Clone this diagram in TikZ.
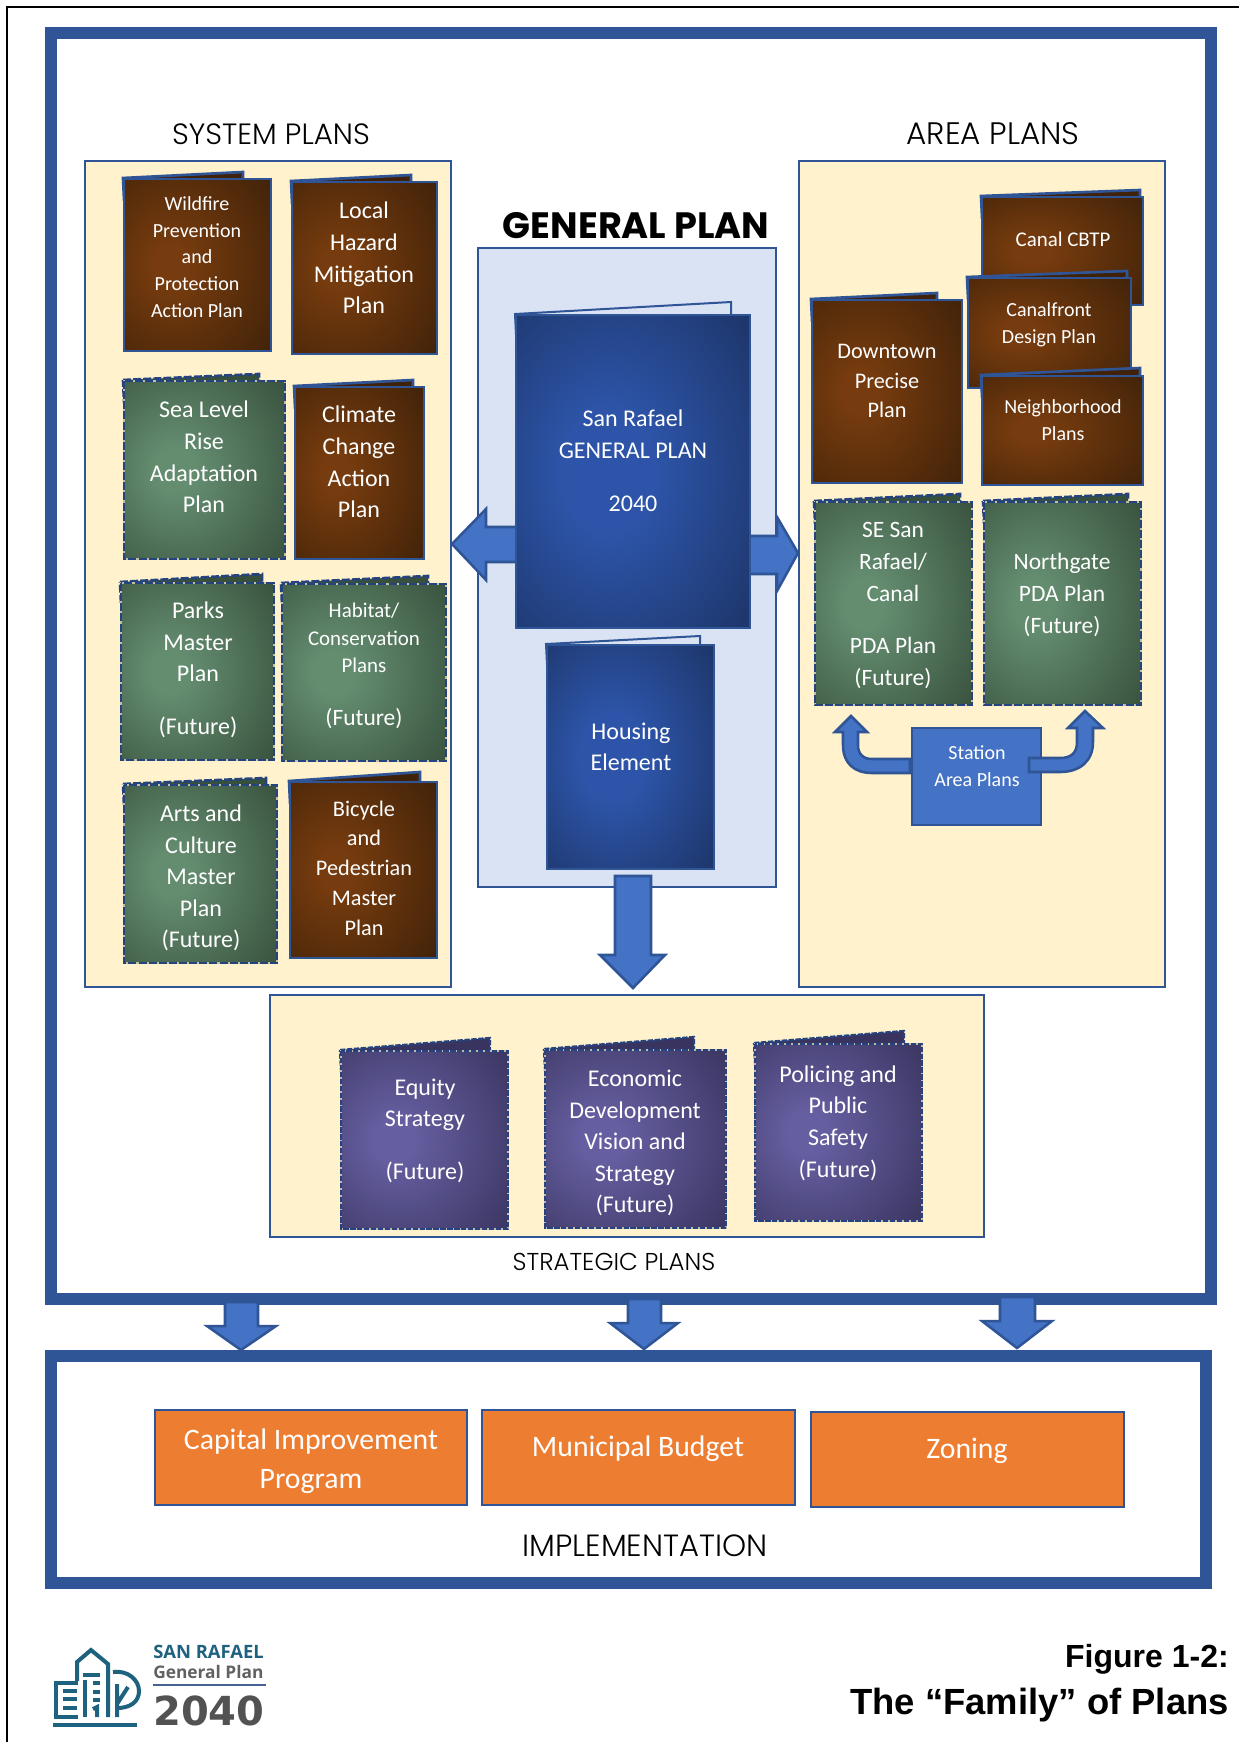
\documentclass[tikz,border=0pt]{standalone}
\usepackage{fontspec}
\setmainfont{Carlito}
\newfontfamily\headf{Poppins}[UprightFont={* Light},BoldFont={* Bold}]
\newfontfamily\figf{Liberation Sans}
\newfontfamily\logof{Open Sans}
\newfontfamily\logon{DejaVu Sans}
\definecolor{frame}{HTML}{2F5597}
\definecolor{cream}{HTML}{FFF2CC}
\definecolor{paleblue}{HTML}{DAE3F3}
\definecolor{arrowblue}{HTML}{4472C4}
\definecolor{orangebox}{HTML}{ED7D31}
\definecolor{brin}{HTML}{763B0E}
\definecolor{brout}{HTML}{3F2209}
\definecolor{grin}{HTML}{648D70}
\definecolor{grout}{HTML}{37503C}
\definecolor{puin}{HTML}{655EA0}
\definecolor{puout}{HTML}{39345F}
\definecolor{blin}{HTML}{2D54A8}
\definecolor{blout}{HTML}{1A305E}
\definecolor{logoteal}{HTML}{1F627F}
\definecolor{dashblue}{HTML}{24437F}
\pgfdeclareradialshading{brownrad}{\pgfpoint{-10bp}{0bp}}{color(0bp)=(brin); color(6bp)=(brin); color(41bp)=(brout); color(90bp)=(brout)}
\pgfdeclareradialshading{greenrad}{\pgfpoint{-10bp}{0bp}}{color(0bp)=(grin); color(6bp)=(grin); color(41bp)=(grout); color(90bp)=(grout)}
\pgfdeclareradialshading{purplerad}{\pgfpoint{-10bp}{0bp}}{color(0bp)=(puin); color(6bp)=(puin); color(41bp)=(puout); color(90bp)=(puout)}
\pgfdeclareradialshading{bluerad}{\pgfpoint{-6bp}{0bp}}{color(0bp)=(blin); color(10bp)=(blin); color(43bp)=(blout); color(90bp)=(blout)}
\tikzset{
  x=0.75pt,y=-0.75pt,
  bigframe/.style={draw=frame,line width=8.6pt,fill=white},
  panel/.style={draw=frame,line width=1.9pt,fill=cream},
  blockarrow/.style={draw=frame,line width=1.9pt,fill=arrowblue,line join=miter},
  orangecell/.style={draw=frame,line width=2pt,fill=orangebox},
  brownb/.style={shade,shading=brownrad},
  brownu/.style={},
  browns/.style={draw=frame,line width=2pt},
  brownl/.style={fill=brout,draw=frame,line width=2pt},
  greenb/.style={shade,shading=greenrad},
  greenu/.style={draw=cream!70!grout,line width=1pt},
  greens/.style={draw=dashblue,line width=2.2pt,dash pattern=on 6pt off 1.6pt},
  greenl/.style={fill=grout,draw=dashblue,line width=2pt,dash pattern=on 6pt off 1.6pt},
  purpleb/.style={shade,shading=purplerad},
  purpleu/.style={draw=cream!70!puout,line width=0.8pt},
  purples/.style={draw=dashblue,line width=1.7pt,dash pattern=on 4pt off 1.2pt},
  purplel/.style={fill=puout,draw=dashblue,line width=1.7pt,dash pattern=on 4pt off 1.2pt},
  blueb/.style={shade,shading=bluerad},
  blueu/.style={},
  blues/.style={draw=frame,line width=1pt},
  bluel/.style={fill=paleblue,draw=frame,line width=1.5pt},
  lab/.style={text=white,align=center,inner sep=0pt},
  L24/.style={lab,font=\fontsize{18}{23.7}\selectfont},
  L22/.style={lab,font=\fontsize{16.7}{22.3}\selectfont},
  L20/.style={lab,font=\fontsize{15}{20}\selectfont},
  L21/.style={lab,font=\fontsize{15.7}{20.5}\selectfont},
  L23/.style={lab,font=\fontsize{17.6}{24}\selectfont},
  L29/.style={lab,font=\fontsize{22.3}{29}\selectfont},
  headlab/.style={inner sep=0pt,font=\headf\fontsize{22}{24}\selectfont},
  logoink/.style={draw=logoteal,line width=3pt,line cap=butt,fill=none},
}
% style, x1,y1,x2,y2, leaf right x, leaf top y
\newcommand{\bookshape}[7]{%
  \path[#1l] (#2-1,#3-1) -- (#6,#7) -- (#6,#3) -- (#2,#3+20) -- cycle;
  \path[#1b] (#2,#3) rectangle (#4,#5);
  \path[#1u] (#2,#3) rectangle (#4,#5);
  \path[#1s] (#2,#3) rectangle (#4,#5);
}
\begin{document}
\begin{tikzpicture}
\useasboundingbox (0,0) rectangle (1239,1742);
\fill[white] (0,0) rectangle (1239,1742);
\draw[black,line width=2pt] (1239,7) -- (7,7) -- (7,1742);

% main frames
\draw[bigframe] (51,33) rectangle (1211,1299);
\draw[bigframe] (51,1356) rectangle (1206,1583);

% panels
\draw[panel] (85,161) rectangle (451,987);
\draw[panel] (799,161) rectangle (1165,987);
\draw[panel] (270,995) rectangle (984,1237);
\draw[panel,fill=paleblue] (478,248) rectangle (776,887);

% general plan arrows
\draw[blockarrow] (520,527) -- (486,527) -- (486,509) -- (452,544) -- (486,580) -- (486,562) -- (520,562) -- cycle;
\draw[blockarrow] (745,536) -- (777,536) -- (777,517) -- (798,553) -- (777,591) -- (777,574) -- (745,574) -- cycle;
\draw[blockarrow] (615,876) -- (651,876) -- (651,955) -- (665,955) -- (633,988) -- (600,955) -- (615,955) -- cycle;

% headings
\node[headlab] (sysh) at (271,134) {SYSTEM PLANS};
\node[headlab,font=\headf\fontsize{23.3}{24}\selectfont] (areah) at (993,134) {AREA PLANS};
\node[inner sep=0pt,font=\headf\bfseries\fontsize{27.5}{30}\selectfont] (genh) at (636,226) {GENERAL PLAN};
\node[headlab,font=\headf\fontsize{18.3}{20}\selectfont] (strath) at (614,1262) {STRATEGIC PLANS};
\node[headlab,font=\headf\fontsize{23}{24}\selectfont] (implh) at (645,1546) {IMPLEMENTATION};

% centre books
\bookshape{blue}{516}{315}{750}{628}{731}{302}
\node[L24] (gp) at (633,461) {San Rafael\\GENERAL PLAN\\[16pt]2040};
\bookshape{blue}{547}{645}{714}{869}{700}{636}
\node[L24] (he) at (631,747) {Housing\\Element};

% system plans
\bookshape{brown}{124}{179}{271}{351}{243}{172}
\node[L20] (t1) at (197,257) {Wildfire\\Prevention\\and\\Protection\\Action Plan};
\bookshape{brown}{292}{182}{437}{354}{411}{175}
\node[L24] (t2) at (364,258) {Local\\Hazard\\Mitigation\\Plan};
\bookshape{green}{124}{381}{285}{559}{259}{374}
\node[L24] (t3) at (204,457) {Sea Level\\Rise\\Adaptation\\Plan};
\bookshape{brown}{295}{387}{424}{559}{413}{380}
\node[L24] (t4) at (359,462) {Climate\\Change\\Action\\Plan};
\bookshape{green}{121}{583}{274}{760}{262}{574}
\node[L24] (t5) at (198,670) {Parks\\Master\\Plan\\[16pt](Future)};
\bookshape{green}{282}{584}{446}{761}{428}{576}
\node[L21] (t6) at (364,666) {Habitat/\\Conservation\\Plans\\[19pt]{\fontsize{17.6}{20}\selectfont (Future)}};
\bookshape{green}{124}{785}{277}{963}{266}{778}
\node[L24] (t7) at (201,878) {Arts and\\Culture\\Master\\Plan\\(Future)};
\bookshape{brown}{290}{782}{437}{958}{420}{772}
\node[L22] (t8) at (364,868) {Bicycle\\and\\Pedestrian\\Master\\Plan};

% area plans
\bookshape{brown}{982}{197}{1143}{305}{1140}{190}
\node[L21] (a1) at (1063,239) {Canal CBTP};
\bookshape{brown}{968}{278}{1131}{388}{1127}{271}
\node[L20] (a2) at (1049,325) {Canalfront\\Design Plan};
\bookshape{brown}{982}{376}{1143}{485}{1140}{368}
\node[L20] (a3) at (1063,420) {Neighborhood\\Plans};
\bookshape{brown}{812}{300}{962}{483}{937}{293}
\node[L22] (a4) at (887,381) {Downtown\\Precise\\Plan};
\bookshape{green}{815}{502}{972}{705}{960}{494}
\node[L23] (a5) at (893,606) {SE San\\Rafael/\\Canal\\[15pt]PDA Plan\\(Future)};
\bookshape{green}{984}{502}{1141}{705}{1128}{494}
\node[L23] (a6) at (1062,595) {Northgate\\PDA Plan\\(Future)};

\path[blockarrow,fill=arrowblue] (912,728) rectangle (1041,825);
\node[L20] (st) at (977,766) {Station\\Area Plans};
\draw[blockarrow] (910,759) -- (872,759) .. controls (863,759) and (858,754) .. (858,745) -- (858,732) -- (867,732) -- (851,716) -- (835,732) -- (843,732) -- (843,745) .. controls (843,763) and (854,773) .. (872,773) -- (910,773) -- cycle;
\draw[blockarrow] (1029,758) -- (1060,758) .. controls (1071,758) and (1077,753) .. (1077,742) -- (1077,728) -- (1068,728) -- (1085,711) -- (1103,728) -- (1093,728) -- (1093,742) .. controls (1093,761) and (1080,772) .. (1060,772) -- (1029,772) -- cycle;

% strategic plans
\bookshape{purple}{341}{1051}{508}{1229}{490}{1038}
\node[L24] (s1) at (425,1131) {Equity\\Strategy\\[16pt](Future)};
\bookshape{purple}{545}{1050}{726}{1228}{694}{1037}
\node[L24] (s2) at (635,1143) {Economic\\Development\\Vision and\\Strategy\\(Future)};
\bookshape{purple}{755}{1044}{922}{1221}{904}{1031}
\node[L24] (s3) at (838,1123) {Policing and\\Public\\Safety\\(Future)};

% arrows to implementation
\draw[blockarrow] (225,1302) -- (258,1302) -- (258,1326) -- (276,1326) -- (241,1350) -- (207,1326) -- (225,1326) -- cycle;
\draw[blockarrow] (628,1299) -- (661,1299) -- (661,1323) -- (678,1323) -- (644,1349) -- (610,1323) -- (628,1323) -- cycle;
\draw[blockarrow] (1000,1297) -- (1035,1297) -- (1035,1321) -- (1052,1321) -- (1017,1348) -- (982,1321) -- (1000,1321) -- cycle;

% implementation
\draw[orangecell] (155,1410) rectangle (467,1505);
\node[L29] (c1) at (311,1461) {Capital Improvement\\Program};
\draw[orangecell] (482,1410) rectangle (795,1505);
\node[L29] (c2) at (638,1449) {Municipal Budget};
\draw[orangecell] (811,1412) rectangle (1124,1507);
\node[L29] (c3) at (967,1451) {Zoning};

% figure title
\node[inner sep=0pt,anchor=east,font=\figf\bfseries\fontsize{24}{26}\selectfont] (f1) at (1229,1659) {Figure 1-2:};
\node[inner sep=0pt,anchor=east,font=\figf\bfseries\fontsize{27.3}{30}\selectfont] (f2) at (1229,1705) {The “Family” of Plans};

% logo
\draw[logoteal,line width=3.4pt] (53,1725) -- (137,1725);
\draw[logoink] (78,1683) -- (56,1683) -- (56,1717) -- (78,1717);
\draw[logoink] (63,1691) -- (77,1691) (63,1699) -- (77,1699) (63,1708) -- (77,1708);
\draw[logoink] (77,1681) -- (77,1662) -- (91,1650) -- (108,1664) -- (108,1717);
\draw[logoink] (83,1675) -- (100,1675) (93,1683) -- (100,1683) (93,1692) -- (100,1692) (93,1700) -- (100,1700);
\draw[logoink] (85,1717) -- (85,1680);
\draw[logoink] (97,1717) -- (97,1707) -- (93,1709);
\draw[logoink] (117,1717) -- (117,1684) (117,1704) -- (128,1687);
\draw[logoink] (113,1672) .. controls (128,1670) and (139,1680) .. (139,1691) .. controls (139,1702) and (130,1708) .. (117,1708);
\node[inner sep=0pt,anchor=west,text=logoteal,font=\logof\bfseries\fontsize{13.8}{14}\selectfont] (l1) at (153,1652) {SAN RAFAEL};
\node[inner sep=0pt,anchor=west,text=black!62,font=\logof\bfseries\fontsize{13}{14}\selectfont] (l2) at (153,1672) {General Plan};
\draw[color=frame!70!gray,line width=1.6pt] (l1.west |- 0,1685) -- (266,1685);
\node[inner sep=0pt,anchor=west,text=black!68,font=\logon\bfseries\fontsize{30}{30}\selectfont] (l3) at (153,1711) {2040};
\end{tikzpicture}
\end{document}
